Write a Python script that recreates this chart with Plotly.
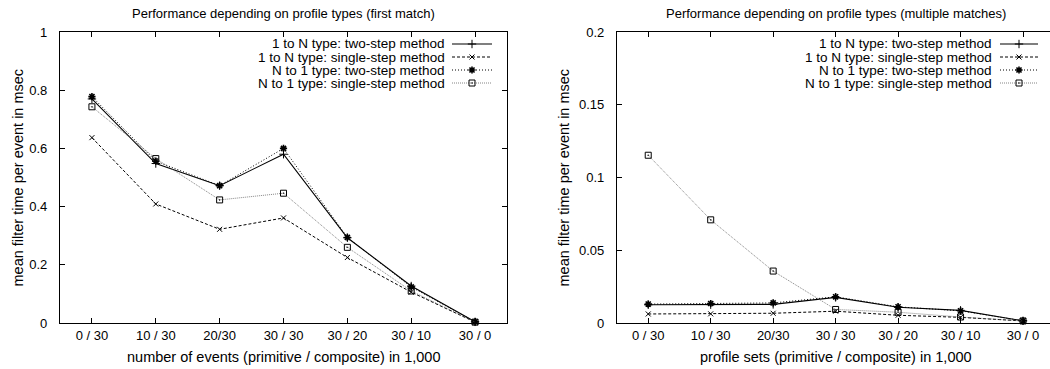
import plotly.graph_objects as go

# Category labels (primitive / composite, in thousands)
categories = ["0 / 30", "10 / 30", "20/30", "30 / 30", "30 / 20", "30 / 10", "30 / 0"]

series_names = [
    "1 to N type: two-step method",
    "1 to N type: single-step method",
    "N to 1 type: two-step method",
    "N to 1 type: single-step method",
]

# First match: mean filter time per event (msec)
first_1toN_two = [0.770, 0.548, 0.472, 0.580, 0.293, 0.127, 0.004]
first_1toN_single = [0.637, 0.409, 0.322, 0.361, 0.225, 0.106, 0.003]
first_Nto1_two = [0.778, 0.556, 0.472, 0.600, 0.294, 0.124, 0.004]
first_Nto1_single = [0.743, 0.565, 0.423, 0.446, 0.260, 0.110, 0.003]

# Multiple matches: mean filter time per event (msec)
multi_1toN_two = [0.0125, 0.0126, 0.0128, 0.0176, 0.0108, 0.0087, 0.0015]
multi_1toN_single = [0.0062, 0.0063, 0.0067, 0.0081, 0.0053, 0.0039, 0.0014]
multi_Nto1_two = [0.0130, 0.0134, 0.0138, 0.0180, 0.0111, 0.0084, 0.0015]
multi_Nto1_single = [0.1153, 0.0709, 0.0357, 0.0093, 0.0074, 0.0041, 0.0014]

FONT = "Liberation Sans, Arial, sans-serif"

styles = [
    dict(line=dict(color="black", width=1.1, dash="solid"),
         marker=dict(symbol="cross-thin-open", size=6, color="black",
                     line=dict(width=1, color="black"))),
    dict(line=dict(color="black", width=1, dash="3px,2px"),
         marker=dict(symbol="x-thin-open", size=5, color="black",
                     line=dict(width=1, color="black"))),
    dict(line=dict(color="black", width=1, dash="1px,2px"),
         marker=dict(symbol="asterisk-open", size=6, color="black",
                     line=dict(width=1.6, color="black"))),
    dict(line=dict(color="#666666", width=0.8, dash="1px,1px"),
         marker=dict(symbol="square-open-dot", size=6, color="black",
                     line=dict(width=1, color="black"))),
]

fig = go.Figure()

x_idx = list(range(len(categories)))
panels = [
    ("x", "y", [first_1toN_two, first_1toN_single, first_Nto1_two, first_Nto1_single]),
    ("x2", "y2", [multi_1toN_two, multi_1toN_single, multi_Nto1_two, multi_Nto1_single]),
]
for xa, ya, data in panels:
    for name, vals, st in zip(series_names, data, styles):
        fig.add_trace(go.Scatter(
            x=x_idx, y=vals, mode="lines+markers", name=name,
            xaxis=xa, yaxis=ya, showlegend=False, cliponaxis=False,
            line=st["line"], marker=st["marker"],
        ))

W, H = 1050, 369
L1, R1 = 60, 507      # left panel plot area (px)
L2, R2 = 617, 1050    # right panel plot area (px)
TOP, BOT = 32, 323


def px(xp):
    return xp / W


def py(yp):
    return (BOT - yp) / (BOT - TOP)


# Legend keys in a transparent pixel-space subplot (text right-aligned, sample on the right)
legend_rows = [44, 57, 70, 83]
legend_panels = [(447, 452, 492), (994, 1000, 1038)]
for text_right, line_x0, line_x1 in legend_panels:
    for row_y, name, st in zip(legend_rows, series_names, styles):
        fig.add_trace(go.Scatter(
            x=[line_x0, line_x1], y=[row_y, row_y],
            mode="lines", xaxis="x3", yaxis="y3", showlegend=False,
            line=st["line"], hoverinfo="skip",
        ))
        fig.add_trace(go.Scatter(
            x=[(line_x0 + line_x1) / 2], y=[row_y], mode="markers",
            xaxis="x3", yaxis="y3", showlegend=False,
            marker=st["marker"], hoverinfo="skip",
        ))
        fig.add_annotation(
            x=px(text_right), y=py(row_y), xref="paper", yref="paper", text=name,
            showarrow=False, xanchor="right", yanchor="middle",
            font=dict(family=FONT, size=13.5, color="black"),
        )

axis_common = dict(
    showline=True, linecolor="black", linewidth=1.2,
    ticks="inside", ticklen=5, tickcolor="black", tickwidth=1,
    showgrid=False, zeroline=False,
    tickfont=dict(family=FONT, size=13, color="black"),
)

fig.update_layout(
    width=W, height=H,
    margin=dict(l=0, r=0, t=TOP, b=H - BOT),
    paper_bgcolor="white", plot_bgcolor="rgba(0,0,0,0)",
    xaxis=dict(axis_common, domain=[L1 / W, R1 / W], range=[-0.5, 6.5],
               tickmode="array", tickvals=x_idx, ticktext=categories,
               mirror="ticks", ticklabelstandoff=0, anchor="y"),
    yaxis=dict(axis_common, range=[0, 1], tickvals=[0, 0.2, 0.4, 0.6, 0.8, 1],
               ticktext=["0", "0.2", "0.4", "0.6", "0.8", "1"],
               mirror="ticks", ticklabelstandoff=9, anchor="x"),
    xaxis2=dict(axis_common, domain=[L2 / W, R2 / W],
                range=[-0.5, 6 + (R2 - 1023) / 62.5],
                tickmode="array", tickvals=x_idx, ticktext=categories,
                mirror="ticks", ticklabelstandoff=0, anchor="y2"),
    yaxis2=dict(axis_common, range=[0, 0.2],
                tickvals=[0, 0.05, 0.1, 0.15, 0.2],
                ticktext=["0", "0.05", "0.1", "0.15", "0.2"],
                mirror=False, ticklabelstandoff=9, anchor="x2"),
    # pixel-space subplot for legend keys: x in [0, W], y runs downward
    xaxis3=dict(domain=[0, 1], range=[0, W], visible=False, anchor="y3"),
    yaxis3=dict(domain=[0, 1], range=[BOT, TOP], visible=False, anchor="x3"),
)

# Panel titles and axis titles
titles = [
    ((L1 + R1) / 2, "Performance depending on profile types (first match)",
     "number of events (primitive / composite) in 1,000", 17),
    ((L2 + 1054) / 2, "Performance depending on profile types (multiple matches)",
     "profile sets (primitive / composite) in 1,000", 563),
]
for cx, title, xtitle, ytitle_x in titles:
    fig.add_annotation(x=px(cx), y=py(13), xref="paper", yref="paper", text=title,
                       showarrow=False, xanchor="center", yanchor="middle",
                       font=dict(family=FONT, size=13, color="black"))
    fig.add_annotation(x=px(cx), y=py(357), xref="paper", yref="paper", text=xtitle,
                       showarrow=False, xanchor="center", yanchor="middle",
                       font=dict(family=FONT, size=14.5, color="black"))
    fig.add_annotation(x=px(ytitle_x), y=py((TOP + BOT) / 2), xref="paper", yref="paper",
                       text="mean filter time per event in msec", textangle=-90,
                       showarrow=False, xanchor="center", yanchor="middle",
                       font=dict(family=FONT, size=14.5, color="black"))

fig.write_html("out.html")
